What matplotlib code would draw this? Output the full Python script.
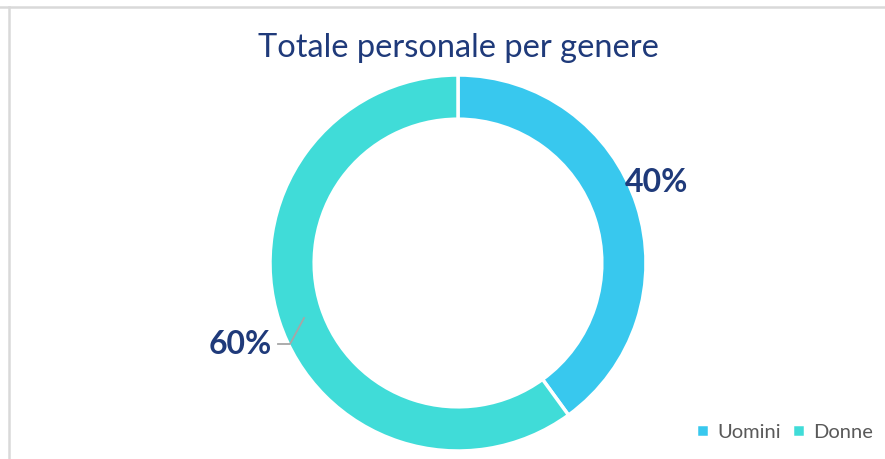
import matplotlib.pyplot as plt
from matplotlib.lines import Line2D

plt.rcParams['font.family'] = ['Lato', 'DejaVu Sans']

labels = ['Uomini', 'Donne']
shares = [40, 60]
colors = ['#38C8EE', '#40DCD8']
pct_text = ['40%', '60%']

fig = plt.figure(figsize=(8.85, 4.59), dpi=100)

# light grey frame (top and left edges visible)
fig.add_artist(Line2D([0.0, 1.0], [1 - 7 / 459, 1 - 7 / 459], color='#d9d9d9', lw=1.8))
fig.add_artist(Line2D([9 / 885, 9 / 885], [0, 1 - 7 / 459], color='#d9d9d9', lw=1.8))

# donut axes: centre (458, 263), radius ~188 px
r = 188
cx, cy = 458, 263
ax = fig.add_axes([(cx - r) / 885, (459 - cy - r) / 459, 2 * r / 885, 2 * r / 459])
wedges, _ = ax.pie(shares, colors=colors, startangle=90, counterclock=False,
                   radius=1.0, wedgeprops=dict(width=0.235, edgecolor='white', linewidth=2.5))
ax.set_xlim(-1, 1)
ax.set_ylim(-1, 1)
ax.set_aspect('equal')
ax.axis('off')

fig.text(458 / 885, 1 - 48 / 459, 'Totale personale per genere', ha='center', va='center',
         fontsize=23.5, color='#1F3A7A')

fig.text(657 / 885, 1 - 182 / 459, pct_text[0], ha='center', va='center',
         fontsize=23, fontweight='bold', color='#1F3A7A')
fig.text(240 / 885, 1 - 344 / 459, pct_text[1], ha='center', va='center',
         fontsize=23, fontweight='bold', color='#1F3A7A')

# leader line for 60%
fig.add_artist(Line2D([278 / 885, 290 / 885, 304 / 885],
                      [1 - 344 / 459, 1 - 344 / 459, 1 - 318 / 459],
                      color='#A6A6A6', lw=1.3))

leg = fig.legend(wedges, labels, loc='center right', bbox_to_anchor=(891 / 885, 1 - 432 / 459),
                 ncol=2, frameon=False, fontsize=14.5, handlelength=0.65, handleheight=0.65,
                 handletextpad=0.4, columnspacing=0.55, labelcolor='#595959')

fig.savefig('out.png', dpi=100)
